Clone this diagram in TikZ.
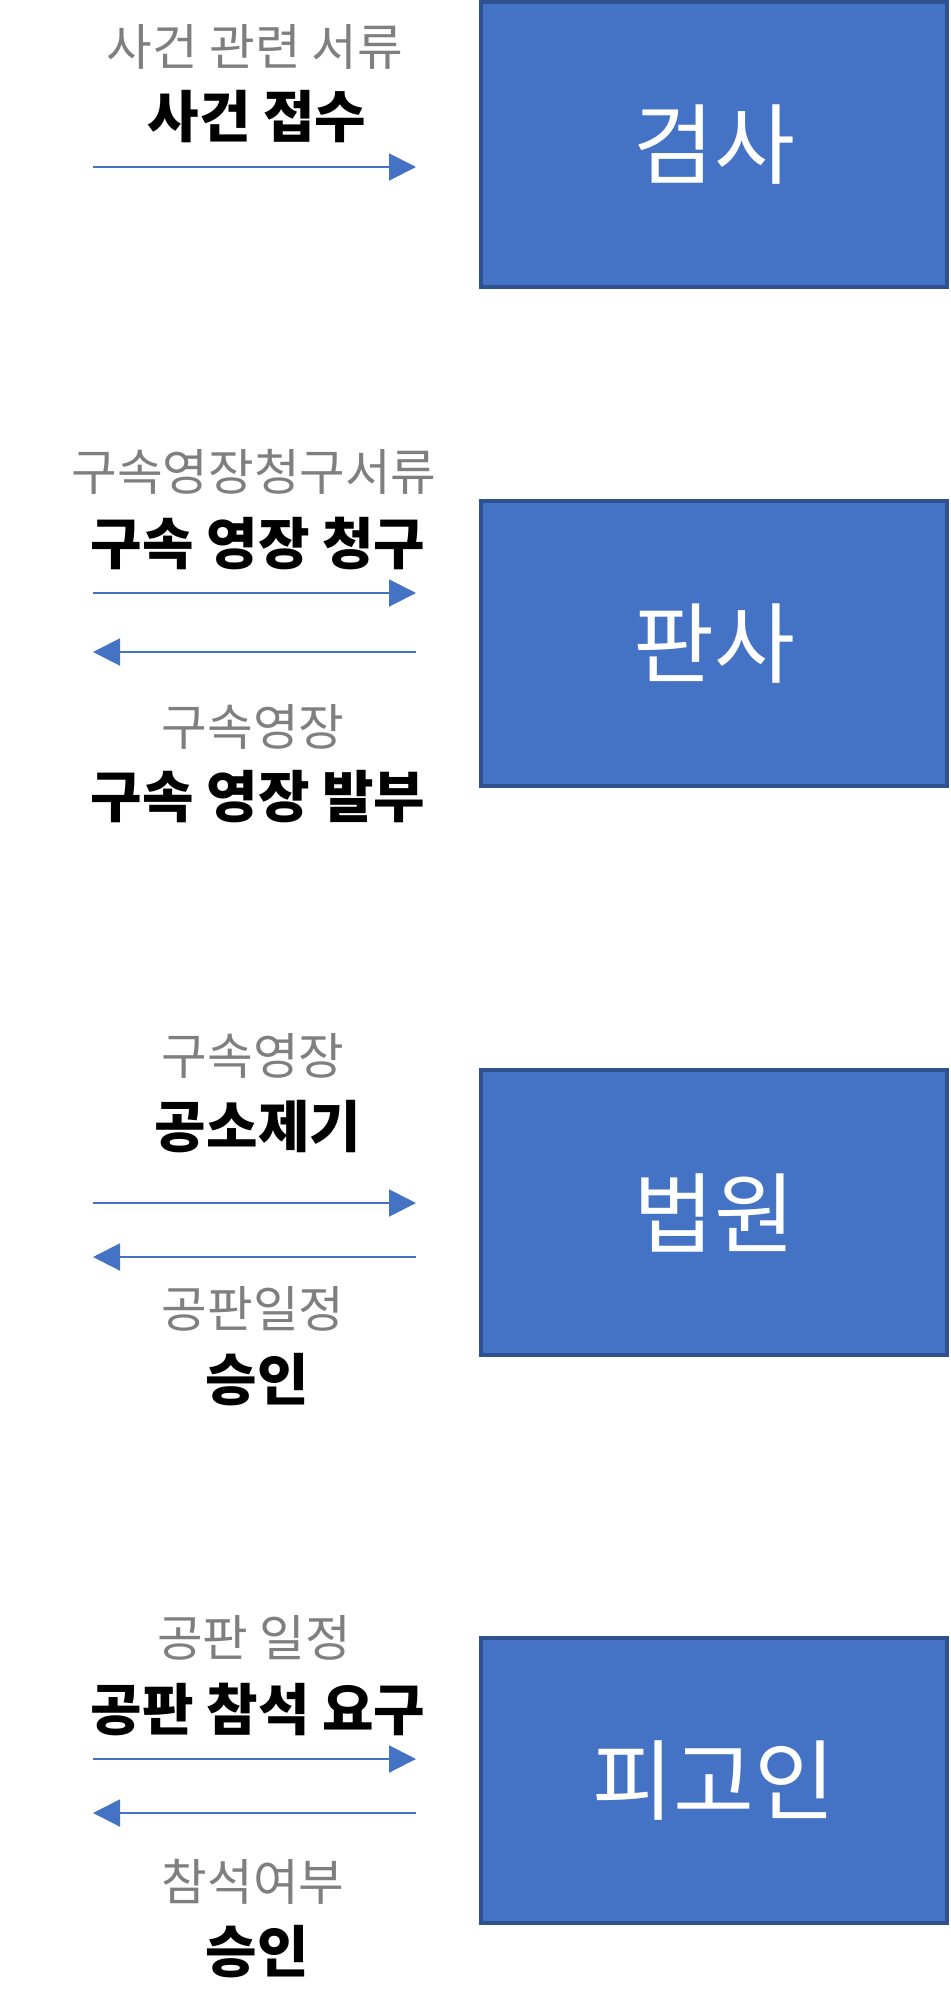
\documentclass[tikz,border=0pt]{standalone}
\usepackage{fontspec}
\setmainfont{Noto Sans CJK KR}
\usetikzlibrary{arrows.meta}
\definecolor{boxfill}{HTML}{4472C4}
\definecolor{boxline}{HTML}{2F528F}
\definecolor{softgray}{HTML}{7F7F7F}
\begin{document}
\begin{tikzpicture}[x=0.5pt, y=-0.5pt,
    actor/.style={draw=boxline, fill=boxfill, line width=2.25pt, minimum width=233pt, minimum height=142.5pt, text=white, font=\fontsize{44}{52}\selectfont},
    doc/.style={text=softgray, font=\fontsize{24.8}{30}\selectfont},
    act/.style={text=black, font=\bfseries\fontsize{28}{33}\selectfont},
    flow/.style={draw=boxfill, line width=1pt, -{Triangle[length=13.5pt, width=13.5pt]}}]
            \useasboundingbox (0,0) rectangle (950,2013);

            \node[actor] (prosecutor) at (714,144.5) {검사};
            \node[doc] (docA) at (255,47) {사건 관련 서류};
            \node[act] (actA) at (257,117) {사건 접수};
            \coordinate (inA) at (93,167);
            \coordinate (outA) at (416,167);
            \draw[flow] (inA) -- (outA);

            \node[actor] (judge) at (714,643.5) {판사};
            \node[doc] (docB) at (254,472) {구속영장청구서류};
            \node[act] (actB) at (258,543) {구속 영장 청구};
            \coordinate (inB) at (93,593);
            \coordinate (outB) at (416,593);
            \draw[flow] (inB) -- (outB);
            \coordinate (inC) at (93,652);
            \coordinate (outC) at (416,652);
            \draw[flow] (outC) -- (inC);
            \node[doc] (docC) at (253,727) {구속영장};
            \node[act] (actC) at (258,797) {구속 영장 발부};

            \node[actor] (court) at (714,1212.5) {법원};
            \node[doc] (docD) at (253,1056) {구속영장};
            \node[act] (actD) at (258,1127) {공소제기};
            \coordinate (inD) at (93,1203);
            \coordinate (outD) at (416,1203);
            \draw[flow] (inD) -- (outD);
            \coordinate (inE) at (93,1257);
            \coordinate (outE) at (416,1257);
            \draw[flow] (outE) -- (inE);
            \node[doc] (docE) at (253,1309) {공판일정};
            \node[act] (actE) at (257,1380) {승인};

            \node[actor] (defendant) at (714,1780.5) {피고인};
            \node[doc] (docF) at (254,1638) {공판 일정};
            \node[act] (actF) at (258,1709) {공판 참석 요구};
            \coordinate (inF) at (93,1759);
            \coordinate (outF) at (416,1759);
            \draw[flow] (inF) -- (outF);
            \coordinate (inG) at (93,1813);
            \coordinate (outG) at (416,1813);
            \draw[flow] (outG) -- (inG);
            \node[doc] (docG) at (253,1882) {참석여부};
            \node[act] (actG) at (257,1952) {승인};
\end{tikzpicture}
\end{document}
